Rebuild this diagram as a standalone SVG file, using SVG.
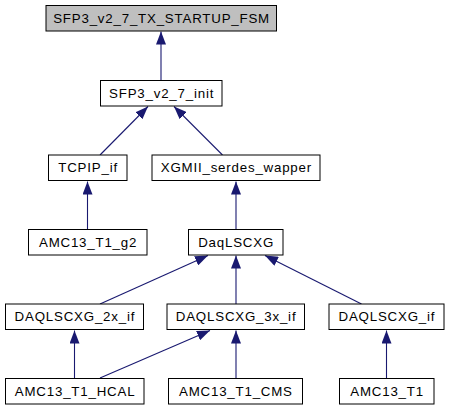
<svg xmlns="http://www.w3.org/2000/svg" width="449" height="411" viewBox="0 0 449 411">
<style>
.n rect{fill:#fff;stroke:#000;stroke-width:1}
.n text{font-family:"Liberation Sans",Arial,sans-serif;font-size:13.3px;letter-spacing:0.8px;text-anchor:middle;fill:#000}
#fsm rect{fill:#bfbfbf}
.e line{stroke:#191970;stroke-width:1.1;marker-end:url(#ah)}
</style>
<defs>
<marker id="ah" viewBox="0 0 13 10" refX="13" refY="5" markerWidth="13" markerHeight="10" orient="auto" markerUnits="userSpaceOnUse">
<path d="M0,0 L13,5 L0,10 z" fill="#191970"/>
</marker>
</defs>
<rect width="449" height="411" fill="#fff"/>
<g class="e" id="edges">
<line x1="161" y1="80" x2="161" y2="31.5"/>
<line x1="100" y1="155" x2="148" y2="106.5"/>
<line x1="222.5" y1="155" x2="174" y2="106.5"/>
<line x1="87.5" y1="229" x2="87.5" y2="181.5"/>
<line x1="236" y1="229" x2="236" y2="181.5"/>
<line x1="100" y1="304" x2="208" y2="255.5"/>
<line x1="236" y1="304" x2="236" y2="255.5"/>
<line x1="361.5" y1="304" x2="265" y2="255.5"/>
<line x1="74.5" y1="378" x2="74.5" y2="330.5"/>
<line x1="100" y1="378" x2="210" y2="330.5"/>
<line x1="236" y1="378" x2="236" y2="330.5"/>
<line x1="386.5" y1="378" x2="386.5" y2="330.5"/>
</g>
<g class="n" id="fsm"><rect x="46" y="5.5" width="230.5" height="25.5"/><text x="161.6" y="23">SFP3_v2_7_TX_STARTUP_FSM</text></g>
<g class="n" id="init"><rect x="100.5" y="80.5" width="121.5" height="25.5"/><text x="161.6" y="97.5">SFP3_v2_7_init</text></g>
<g class="n" id="tcpip"><rect x="48.5" y="155" width="78.5" height="25.5"/><text x="88.1" y="172">TCPIP_if</text></g>
<g class="n" id="xgmii"><rect x="152" y="155" width="168" height="25.5"/><text x="236.4" y="172">XGMII_serdes_wapper</text></g>
<g class="n" id="g2"><rect x="28.5" y="229.5" width="118.5" height="25.5"/><text x="88.1" y="246.5">AMC13_T1_g2</text></g>
<g class="n" id="daq"><rect x="188.5" y="229.5" width="94.5" height="25.5"/><text x="236.1" y="246.5">DaqLSCXG</text></g>
<g class="n" id="daq2x"><rect x="5.5" y="304" width="138" height="25.5"/><text x="74.9" y="321">DAQLSCXG_2x_if</text></g>
<g class="n" id="daq3x"><rect x="167" y="304" width="137.5" height="25.5"/><text x="236.1" y="321">DAQLSCXG_3x_if</text></g>
<g class="n" id="daqif"><rect x="329" y="304" width="115" height="25.5"/><text x="386.9" y="321">DAQLSCXG_if</text></g>
<g class="n" id="hcal"><rect x="5.5" y="378.5" width="138.5" height="25.5"/><text x="75.1" y="395.5">AMC13_T1_HCAL</text></g>
<g class="n" id="cms"><rect x="168.5" y="378.5" width="134" height="25.5"/><text x="235.9" y="395.5">AMC13_T1_CMS</text></g>
<g class="n" id="t1"><rect x="339.5" y="378.5" width="94.5" height="25.5"/><text x="387.1" y="395.5">AMC13_T1</text></g>
</svg>
